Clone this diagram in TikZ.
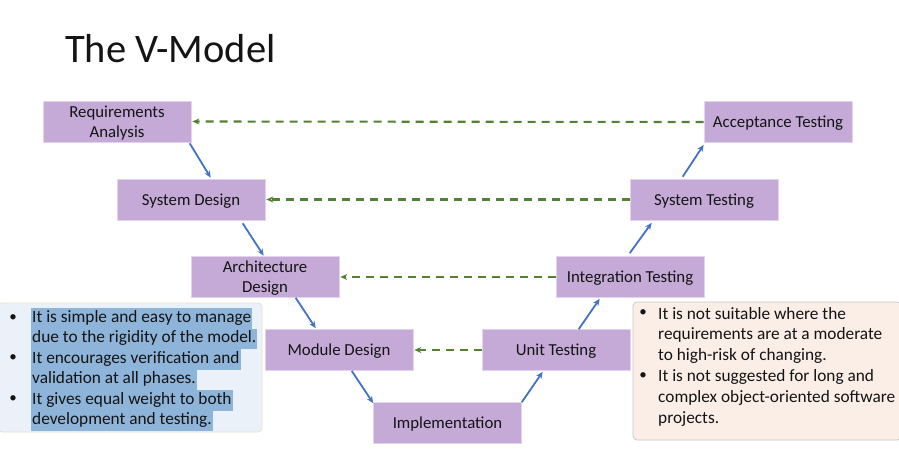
\documentclass[tikz,border=0pt]{standalone}
\usepackage{fontspec}
\setmainfont{Carlito}
\usetikzlibrary{arrows.meta,calc}
\definecolor{boxfill}{RGB}{197,170,216}
\definecolor{boxline}{RGB}{225,212,236}
\definecolor{arrblue}{RGB}{68,114,196}
\definecolor{arrgreen}{RGB}{84,130,53}
\definecolor{leftfill}{RGB}{234,241,249}
\definecolor{leftline}{RGB}{240,220,205}
\definecolor{rightfill}{RGB}{251,238,230}
\definecolor{rightline}{RGB}{200,200,200}
\definecolor{hilite}{RGB}{143,180,218}
\definecolor{txt}{RGB}{20,20,20}
\begin{document}
\begin{tikzpicture}[x=1pt,y=-1pt,
  phase/.style={draw=boxline,line width=0.6pt,fill=boxfill,minimum width=148pt,minimum height=41pt,
    inner sep=0pt,align=center,font=\fontsize{16.8}{20}\selectfont,text=txt},
  ptext/.style={inner sep=0pt,align=center,font=\fontsize{16.8}{20}\selectfont,text=txt},
  flow/.style={draw=arrblue,line width=1.8pt,-{Stealth[length=7pt,width=6pt]}},
  verify/.style={draw=arrgreen,line width=2.1pt,dash pattern=on 8pt off 6pt,-{Stealth[length=7pt,width=6pt]}},
  btext/.style={anchor=west,inner sep=0pt,font=\fontsize{17.3}{20}\selectfont,text=txt},
  hl/.style={btext,fill=hilite,inner ysep=0pt,inner xsep=1pt,text height=14pt,text depth=6.5pt},
  bul/.style={anchor=center,inner sep=0pt,font=\fontsize{15}{20}\selectfont,text=txt}]
\useasboundingbox (0,0) rectangle (899,450);
\fill[white] (0,0) rectangle (899,450);

\node[anchor=base west,inner sep=0pt,font=\fontsize{40.5}{48}\selectfont,text=txt] (title) at (65,62.5) {The V-Model};

% notes boxes
\draw[leftline,fill=leftfill,line width=0.8pt,rounded corners=4pt] (-2,303) rectangle (262,432);
\node[hl] (l1) at (31,318.5) {It is simple and easy to manage};
\node[hl] (l2) at (31,339) {due to the rigidity of the model.};
\node[hl] (l3) at (31,359.5) {It encourages verification and};
\node[hl] (l4) at (31,380) {validation at all phases.};
\node[hl] (l5) at (31,400.5) {It gives equal weight to both};
\node[hl] (l6) at (31,421) {development and testing.};
\node[bul] (lb1) at (13,318) {•};
\node[bul] (lb2) at (13,358.5) {•};
\node[bul] (lb3) at (13,399.5) {•};

\draw[rightline,fill=rightfill,line width=0.8pt,rounded corners=4pt] (633,302) rectangle (901,440);
\node[btext] (r1) at (658,313.5) {It is not suitable where the};
\node[btext] (r2) at (658,334.5) {requirements are at a moderate};
\node[btext] (r3) at (658,355.5) {to high-risk of changing.};
\node[btext] (r4) at (658,377) {It is not suggested for long and};
\node[btext] (r5) at (658,398) {complex object-oriented software};
\node[btext] (r6) at (658,419) {projects.};
\node[bul] (rb1) at (643,313) {•};
\node[bul] (rb2) at (643,376.5) {•};

% phases
\node[phase] (req) at (117,121.5) {};
\node[phase] (sysd) at (191,199.5) {};
\node[phase] (arch) at (265,277) {};
\node[phase] (mod) at (339,350) {};
\node[phase] (impl) at (447.5,423) {};
\node[phase] (unit) at (556,350) {};
\node[phase] (integ) at (630,277) {};
\node[phase] (syst) at (704,199.5) {};
\node[phase] (acc) at (778,122) {};
\node[ptext] (treq) at ([yshift=-1.5pt]req.center) {Requirements\\Analysis};
\node[ptext] (tsysd) at ([yshift=-1.5pt]sysd.center) {System Design};
\node[ptext] (tarch) at ([yshift=-1.5pt]arch.center) {Architecture\\Design};
\node[ptext] (tmod) at ([yshift=-1.5pt]mod.center) {Module Design};
\node[ptext] (timpl) at ([yshift=-1.5pt]impl.center) {Implementation};
\node[ptext] (tunit) at ([yshift=-1.5pt]unit.center) {Unit Testing};
\node[ptext] (tinteg) at ([yshift=-1.5pt]integ.center) {Integration Testing};
\node[ptext] (tsyst) at ([yshift=-1.5pt]syst.center) {System Testing};
\node[ptext] (tacc) at ([yshift=-1.5pt]acc.center) {Acceptance Testing};

% flow arrows
\draw[flow] ($(req.south west)+(147,1)$) -- ($(sysd.north west)+(94,-1)$);
\draw[flow] ($(sysd.south west)+(126,3)$) -- ($(arch.north west)+(73,-0.5)$);
\draw[flow] ($(arch.south west)+(105,0)$) -- ($(mod.north west)+(51,-1)$);
\draw[flow] ($(mod.south west)+(87,0)$) -- ($(impl.north west)+(0,1)$);
\draw[flow] ($(impl.north east)+(0,0)$) -- ($(unit.south west)+(61,1)$);
\draw[flow] ($(unit.north west)+(97,0)$) -- ($(integ.south west)+(44,1)$);
\draw[flow] ($(integ.north west)+(74,-3)$) -- ($(syst.south west)+(22,2.5)$);
\draw[flow] ($(syst.north west)+(53,-2)$) -- ($(acc.south west)+(0,2)$);

% verification arrows
\draw[verify] (acc.west) -- ([xshift=1pt]req.east);
\draw[verify] (syst.west) -- ([xshift=1pt]sysd.east);
\draw[verify] (integ.west) -- ([xshift=1pt]arch.east);
\draw[verify] (unit.west) -- ([xshift=1pt]mod.east);
\end{tikzpicture}
\end{document}
